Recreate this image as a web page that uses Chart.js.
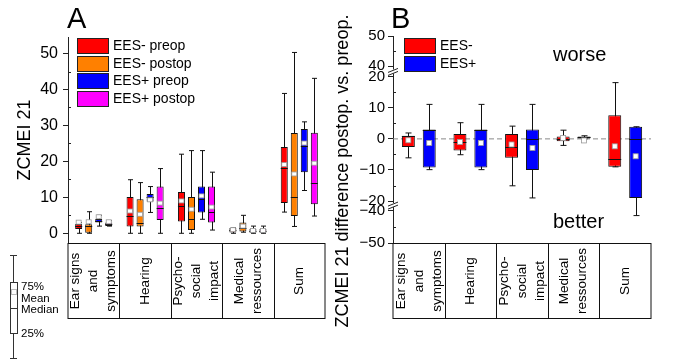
<!DOCTYPE html>
<html lang="en">
<head>
<meta charset="UTF-8" />
<title>ZCMEI 21</title>
<script src="https://cdn.jsdelivr.net/npm/chart.js@4.4.0/dist/chart.umd.min.js"></script>
<style>
  body { margin: 0; width: 685px; height: 362px; background: #fff; position: relative; overflow: hidden;
         font-family: "Liberation Sans", Arial, sans-serif; color: #000; }
  canvas { position: absolute; top: 0; }
  #chartA { left: 0; }
  #chartB { left: 330px; }
  .txt { position: absolute; white-space: nowrap; line-height: 1; }
  .letter { font-size: 29px; }
  .note { font-size: 20px; }
  .legend { position: absolute; font-size: 14px; }
  .legend .row { position: absolute; left: 0; height: 15px; white-space: nowrap; }
  .legend .sw { position: absolute; left: 0; top: 0; width: 30px; height: 14px; border: 1px solid #222; }
  .legend .lb { position: absolute; left: 36px; top: 0; line-height: 15px; }
  #titleB { position: absolute; left: 172px; top: 162px; width: 340px; height: 18px; font-size: 18px;
            line-height: 18px; text-align: center; transform: rotate(-90deg); white-space: nowrap; }
  .k { position: absolute; background: #333; }
  .klb { position: absolute; left: 21px; font-size: 11.5px; line-height: 1; }
</style>
</head>
<body>
<canvas id="chartA" width="330" height="362"></canvas>
<canvas id="chartB" width="355" height="362"></canvas>

<div class="txt letter" style="left:67px; top:4px;">A</div>
<div class="txt letter" style="left:391px; top:4px;">B</div>
<div class="txt note" style="left:553px; top:44px;">worse</div>
<div class="txt note" style="left:553px; top:211px;">better</div>
<div id="titleB">ZCMEI 21 difference postop. vs. preop.</div>
<div class="legend" id="legendA" style="left:77px; top:38px;"></div>
<div class="legend" id="legendB" style="left:404px; top:38px;"></div>

<!-- box plot key -->
<div class="k" style="left:13px; top:255px; width:1px; height:104px;"></div>
<div class="k" style="left:10px; top:255px; width:7px; height:1px;"></div>
<div class="k" style="left:10px; top:358px; width:7px; height:1px;"></div>
<div class="k" style="left:10px; top:282px; width:6px; height:50px; background:#fff; border:1px solid #333;"></div>
<div class="k" style="left:11px; top:289px; width:4px; height:4px; background:#fff; border:1px solid #bbb;"></div>
<div class="k" style="left:10px; top:308px; width:8px; height:1px;"></div>
<div class="klb" style="top:281px;">75%</div>
<div class="klb" style="top:293px;">Mean</div>
<div class="klb" style="top:304px;">Median</div>
<div class="klb" style="top:328px;">25%</div>

<script>
// categories of both panels
const categories = [["Ear signs", "and", "symptoms"], ["Hearing"], ["Psycho-", "social", "impact"],
                    ["Medical", "ressources"], ["Sum"]];

// each entry: [min, 25%, median, 75%, max, mean]
const eesMinusPreop  = [[0, 1.2, 2, 2.6, 3, 3.1], [0, 1.9, 4.8, 10.1, 14.9, 6.2], [0, 3.3, 7.7, 11.5, 22, 9],
                        [0, 0.2, 1, 1.5, 1.5, 1], [5.9, 8.4, 18.3, 24, 38.9, 19.1]];
const eesMinusPostop = [[0, 0, 2, 2.5, 6, 3.2], [0, 1.9, 3, 9.5, 14.1, 5.3], [0, 0.9, 4, 10.1, 23, 6.7],
                        [0.3, 0.5, 1.5, 3, 5, 2], [1.9, 4.8, 10, 27.9, 50.3, 16.5]];
const eesPlusPreop   = [[2, 3, 3.5, 4, 5, 4.6], [5.8, 8.8, 10.2, 10.9, 13, 9.3], [3.9, 5.8, 9.5, 13, 23, 10.4],
                        [0, 0, 0.5, 1.2, 2, 0.8], [11.9, 17, 24.2, 29, 31, 25.1]];
const eesPlusPostop  = [[2, 2, 2.5, 3, 3.5, 3.2], [0, 3.7, 7, 13, 18, 8.4], [0.9, 3, 6, 13, 17, 7.3],
                        [0, 0, 0.5, 1.2, 2, 0.8], [4.8, 8.1, 14, 28, 43.1, 19.5]];

// differences postop - preop
const diffMinus = [[-6.1, -2.6, 1, 1, 1.9, -0.45], [-5.1, -3.7, -1, 1.6, 5.2, -1], [-15.1, -6.1, -2.6, 1.6, 4.1, -1.8],
                   [-2.1, -0.8, 0, 0.8, 2.8, 0.3], [-9, -9, -6.5, 7.6, 18.1, -2.4]];
const diffPlus  = [[-9.9, -9.2, 3, 3, 11.1, -1.3], [-9.9, -9.2, 3, 3, 11.1, -1.3], [-19, -10, 0, 3, 11.1, -2.9],
                   [0, 0, 0.5, 0.8, 1, -0.5], [-41.6, -19, 0, 3.9, 3.9, -5.6]];

const ticksA = [0, 10, 20, 30, 40, 50];
const minorA = [5, 15, 25, 35, 45];
const ticksB = [50, 40, 20, 10, 0, -10, -20, -40, -50];
const minorB = [45, 15, 5, -5, -15, -45];

const FONT = '"Liberation Sans", Arial, sans-serif';

// broken axis of panel B: 40..50 and -50..-40 squeezed above/below -20..20
function axisB(v) {
  if (v > 20) return 23.4 + (v - 40) * 0.97;
  if (v < -20) return -23 + (v + 40) * 1.05;
  return v;
}
function same(v) { return v; }

const boxParts = {
  id: "boxParts",
  beforeDatasetsDraw(chart, args, o) {
    const ctx = chart.ctx, y = chart.scales.y, a = chart.chartArea;
    ctx.save();
    if (o.zeroLine) {
      const y0 = y.getPixelForValue(0);
      ctx.strokeStyle = "#888"; ctx.lineWidth = 1; ctx.setLineDash([5, 3]);
      ctx.beginPath(); ctx.moveTo(a.left, y0); ctx.lineTo(a.right, y0); ctx.stroke();
      ctx.setLineDash([]);
    }
    ctx.strokeStyle = "#111"; ctx.lineWidth = 1;
    chart.data.datasets.forEach((ds, i) => {
      chart.getDatasetMeta(i).data.forEach((bar, j) => {
        const s = ds.stats[j];
        const x = Math.round(bar.x) + 0.5, c = o.cap;
        const lo = y.getPixelForValue(o.map(s[0])), hi = y.getPixelForValue(o.map(s[4]));
        ctx.beginPath();
        ctx.moveTo(x, lo); ctx.lineTo(x, hi);
        ctx.moveTo(x - c, lo); ctx.lineTo(x + c, lo);
        ctx.moveTo(x - c, hi); ctx.lineTo(x + c, hi);
        ctx.stroke();
      });
    });
    ctx.restore();
  },
  afterDatasetsDraw(chart, args, o) {
    const ctx = chart.ctx, y = chart.scales.y;
    ctx.save();
    chart.data.datasets.forEach((ds, i) => {
      chart.getDatasetMeta(i).data.forEach((bar, j) => {
        const s = ds.stats[j];
        const hw = bar.width / 2;
        const ym = Math.round(y.getPixelForValue(o.map(s[2]))) + 0.5;
        ctx.strokeStyle = "#111"; ctx.lineWidth = 1;
        ctx.beginPath(); ctx.moveTo(bar.x - hw, ym); ctx.lineTo(bar.x + hw, ym); ctx.stroke();
        const yc = y.getPixelForValue(o.map(s[5]));
        ctx.fillStyle = "#fff"; ctx.strokeStyle = "#999"; ctx.lineWidth = 0.8;
        ctx.fillRect(bar.x - o.meanW / 2, yc - o.meanH / 2, o.meanW, o.meanH);
        ctx.strokeRect(bar.x - o.meanW / 2, yc - o.meanH / 2, o.meanW, o.meanH);
      });
    });
    ctx.restore();
  },
  afterDraw(chart, args, o) {
    const ctx = chart.ctx, y = chart.scales.y, a = chart.chartArea;
    ctx.save();
    ctx.strokeStyle = "#222"; ctx.lineWidth = 1;
    o.minor.forEach(v => {
      const py = Math.round(y.getPixelForValue(o.map(v))) + 0.5;
      ctx.beginPath(); ctx.moveTo(a.left, py); ctx.lineTo(a.left + 3, py); ctx.stroke();
    });
    (o.breaks || []).forEach(v => {
      const py = y.getPixelForValue(v);
      ctx.fillStyle = "#fff";
      ctx.fillRect(a.left - 3, py - 2, 6, 4);
      ctx.beginPath();
      ctx.moveTo(a.left - 5, py + 1); ctx.lineTo(a.left + 5, py - 3);
      ctx.moveTo(a.left - 5, py + 4); ctx.lineTo(a.left + 5, py);
      ctx.stroke();
    });
    // category table below the plot
    const x = chart.scales.x, n = chart.data.labels.length, w = (a.right - a.left) / n;
    const top = Math.round(a.bottom) + 0.5, bottom = top + o.tableH;
    ctx.strokeStyle = "#111";
    ctx.strokeRect(a.left, top, a.right - a.left, bottom - top);
    for (let i = 1; i < n; i++) {
      const px = Math.round(a.left + i * w) + 0.5;
      ctx.beginPath(); ctx.moveTo(px, top); ctx.lineTo(px, bottom); ctx.stroke();
    }
    ctx.fillStyle = "#000"; ctx.font = "13.5px " + FONT;
    ctx.textAlign = "center"; ctx.textBaseline = "middle";
    chart.data.labels.forEach((lines, i) => {
      ctx.save();
      ctx.translate(x.getPixelForValue(i), (top + bottom) / 2);
      ctx.rotate(-Math.PI / 2);
      lines.forEach((ln, k) => ctx.fillText(ln, 0, (k - (lines.length - 1) / 2) * 18));
      ctx.restore();
    });
    ctx.restore();
  }
};

function makeDataset(label, color, series, map, catPct, barPct) {
  return {
    label: label,
    data: series.map(s => [map(s[1]), map(s[3])]),
    stats: series,
    backgroundColor: color,
    borderColor: "#111",
    borderWidth: 1,
    borderSkipped: false,
    categoryPercentage: catPct,
    barPercentage: barPct
  };
}

function yScale(min, max, width, major, map, pad, size, title) {
  return {
    min: min, max: max,
    afterFit(s) { s.width = width; },
    afterBuildTicks(s) { s.ticks = major.map(v => ({ value: map(v) })); },
    ticks: {
      color: "#000", padding: pad, font: { family: FONT, size: size },
      callback: (v, i) => String(major[i]).replace("-", "\u2212")
    },
    grid: { drawOnChartArea: false, tickLength: 5, color: "#222" },
    border: { color: "#222", width: 1 },
    title: title
  };
}

function makeLegend(el, chart, rowH) {
  chart.data.datasets.forEach((ds, i) => {
    const row = document.createElement("div");
    row.className = "row";
    row.style.top = (i * rowH) + "px";
    row.innerHTML = '<div class="sw" style="background:' + ds.backgroundColor + '"></div><div class="lb">' + ds.label + "</div>";
    el.appendChild(row);
  });
}

const chartA = new Chart(document.getElementById("chartA"), {
  type: "bar",
  data: {
    labels: categories,
    datasets: [
      makeDataset("EES- preop", "#ff0000", eesMinusPreop, same, 0.78, 0.7),
      makeDataset("EES- postop", "#ff8000", eesMinusPostop, same, 0.78, 0.7),
      makeDataset("EES+ preop", "#0000ff", eesPlusPreop, same, 0.78, 0.7),
      makeDataset("EES+ postop", "#ff00ff", eesPlusPostop, same, 0.78, 0.7)
    ]
  },
  options: {
    responsive: false, animation: false,
    layout: { padding: { left: 0, top: 37, right: 5, bottom: 119 } },
    plugins: {
      legend: { display: false }, tooltip: { enabled: false },
      boxParts: { map: same, cap: 2.5, meanW: 5, meanH: 4, minor: minorA, tableH: 75 }
    },
    scales: {
      x: { display: false },
      y: yScale(-2.7, 54.6, 68, ticksA, same, 5, 16,
        { display: true, text: "ZCMEI 21", color: "#000", font: { family: FONT, size: 18 }, padding: { top: 14 } })
    }
  },
  plugins: [boxParts]
});

const chartB = new Chart(document.getElementById("chartB"), {
  type: "bar",
  data: {
    labels: categories,
    datasets: [
      makeDataset("EES-", "#ff0000", diffMinus, axisB, 0.81, 0.62),
      makeDataset("EES+", "#0000ff", diffPlus, axisB, 0.81, 0.62)
    ]
  },
  options: {
    responsive: false, animation: false,
    layout: { padding: { left: 0, top: 36, right: 34, bottom: 119 } },
    plugins: {
      legend: { display: false }, tooltip: { enabled: false },
      boxParts: { map: axisB, cap: 3, meanW: 5, meanH: 5, minor: minorB, tableH: 75,
                  zeroLine: true, breaks: [21.7, -21.3] }
    },
    scales: {
      x: { display: false },
      y: yScale(axisB(-50), axisB(50), 63, ticksB, axisB, 3, 15, { display: false })
    }
  },
  plugins: [boxParts]
});

makeLegend(document.getElementById("legendA"), chartA, 17.7);
makeLegend(document.getElementById("legendB"), chartB, 18);
</script>
</body>
</html>
